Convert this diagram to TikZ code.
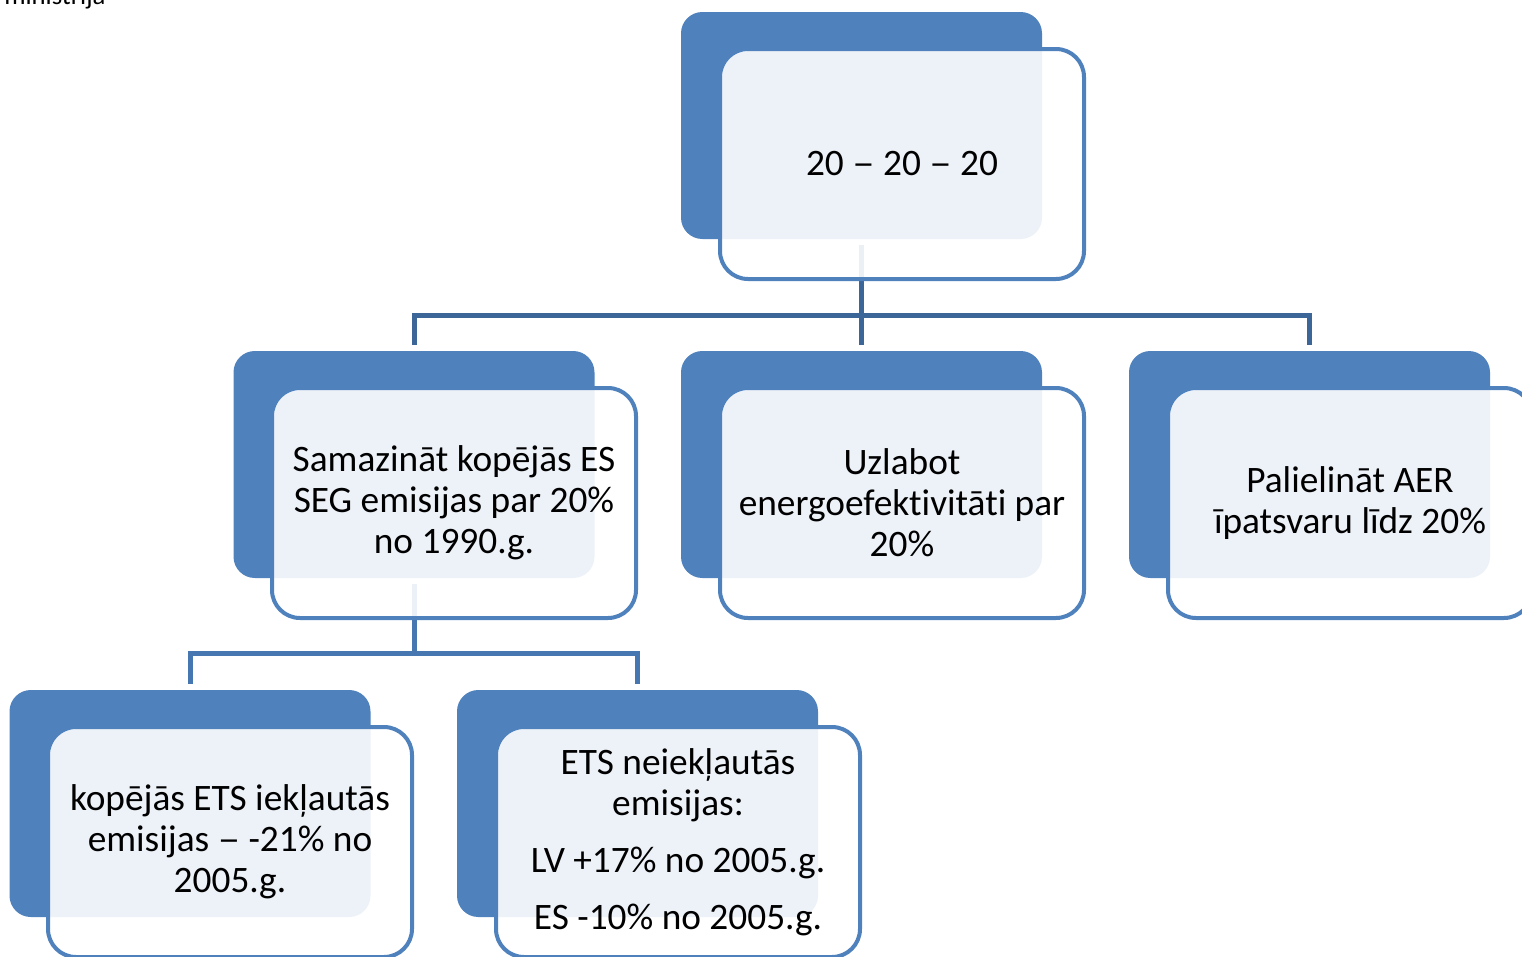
\documentclass[tikz,border=0pt]{standalone}
\usepackage{fontspec}
\setmainfont{Carlito}[RawFeature={-liga;-clig;-dlig}]
\usepackage{graphicx}
\definecolor{accent}{HTML}{4F81BD}
\definecolor{connAcol}{HTML}{3D6698}
\definecolor{connBcol}{HTML}{4777B0}
\newcommand{\wdash}{\scalebox{1.2}[1]{–}}
\begin{document}
\begin{tikzpicture}[x=0.75pt,y=-0.75pt,
  back/.style={fill=accent, rounded corners=16pt, minimum width=270.75pt, minimum height=170.25pt, inner sep=0pt},
  front/.style={draw=accent, line width=3pt, fill=white, fill opacity=0.9, text opacity=1, text=black,
    rounded corners=21pt, minimum width=273pt, minimum height=172.5pt, inner sep=0pt, align=center,
    font=\fontsize{28}{30.75}\selectfont},
  connA/.style={draw=connAcol, line width=3.75pt, line join=miter},
  connB/.style={draw=connBcol, line width=3.75pt, line join=miter}]
\useasboundingbox (0,0) rectangle (1522,957);
\clip (0,0) rectangle (1522,957);
\node[anchor=base west, inner sep=0pt, font=\fontsize{20}{22}\selectfont] (hdr) at (4,4) {ministrija};
% back rectangles
\node[back] (d0) at (861.5,125.5) {};
\node[back] (d1) at (414,464.5) {};
\node[back] (d2) at (861.5,464.5) {};
\node[back] (d3) at (1309.5,464.5) {};
\node[back] (d4) at (190,803.5) {};
\node[back] (d5) at (637.5,803.5) {};
% connectors
\coordinate (h0) at (861.5,315);
\draw[connA] ([yshift=-4.5pt]d0.south) -- (h0);
\draw[connA] ([yshift=4.5pt]d1.north) |- (h0);
\draw[connA] ([yshift=4.5pt]d2.north) -- (h0);
\draw[connA] ([yshift=4.5pt]d3.north) |- (h0);
\coordinate (h1) at (414,653.5);
\draw[connB] ([yshift=-4.5pt]d1.south) -- (h1);
\draw[connB] ([yshift=4.5pt]d4.north) |- (h1);
\draw[connB] ([yshift=4.5pt]d5.north) |- (h1);
% front rectangles
\node[front] (f0) at (902,164) {20 \wdash{} 20 \wdash{} 20};
\node[front] (f1) at (454,503) {Samazināt kopējās ES\\SEG emisijas par 20\%\\no 1990.g.};
\node[front] (f2) at (902,503) {Uzlabot\\energoefektivitāti par\\20\%};
\node[front] (f3) at (1350,503) {Palielināt AER\\īpatsvaru līdz 20\%};
\node[front] (f4) at (230,842) {kopējās ETS iekļautās\\emisijas \wdash{} -21\% no\\2005.g.};
\node[front] (f5) at (678,842) {ETS neiekļautās\\emisijas:\\[12pt]LV +17\% no 2005.g.\\[12pt]ES -10\% no 2005.g.};
\end{tikzpicture}
\end{document}
